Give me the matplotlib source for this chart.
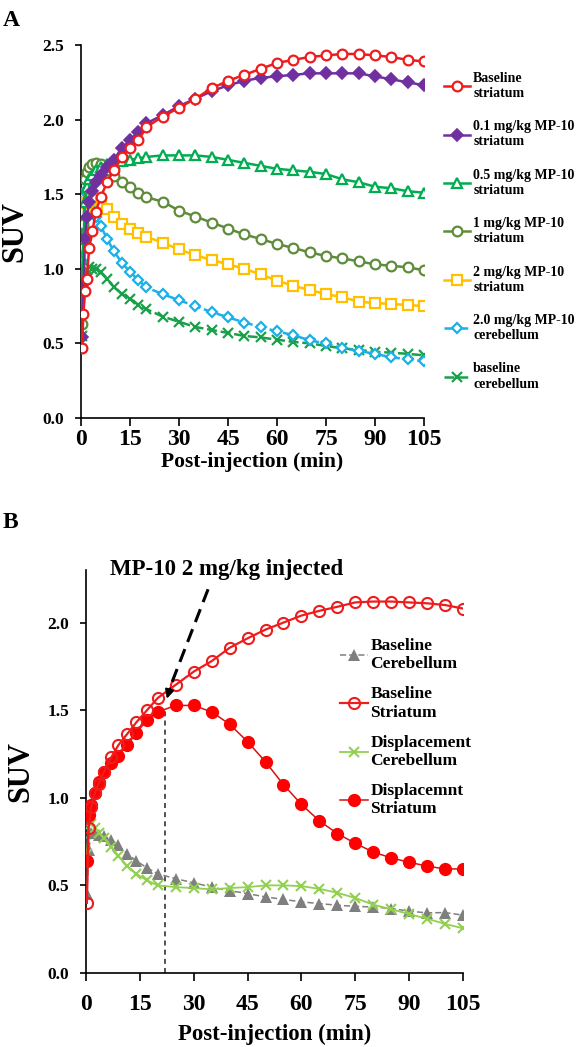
import matplotlib
matplotlib.use("Agg")
import matplotlib.pyplot as plt

plt.rcParams['font.family'] = ['Liberation Serif', 'DejaVu Serif']
plt.rcParams['font.weight'] = 'bold'

# ---------------- Data: panel A ----------------
t_a = [0.25, 0.75, 1.25, 1.75, 2.5, 3.5, 4.5, 6, 8, 10, 12.5, 15, 17.5, 20,
       25, 30, 35, 40, 45, 50, 55, 60, 65, 70, 75, 80, 85, 90, 95, 100, 105]
baseline_str = [0.47, 0.70, 0.85, 0.93, 1.14, 1.25, 1.38, 1.48, 1.58, 1.66, 1.75, 1.81, 1.86, 1.95,
                2.02, 2.08, 2.14, 2.21, 2.26, 2.30, 2.34, 2.38, 2.40, 2.42, 2.43, 2.44, 2.44, 2.43, 2.42, 2.40, 2.39]
mp01_str = [0.54, 0.90, 1.20, 1.35, 1.45, 1.52, 1.58, 1.63, 1.68, 1.73, 1.81, 1.86, 1.92, 1.975,
            2.03, 2.09, 2.14, 2.19, 2.23, 2.26, 2.28, 2.29, 2.30, 2.31, 2.31, 2.31, 2.31, 2.29, 2.27, 2.25, 2.23]
mp05_str = [0.88, 1.20, 1.45, 1.55, 1.60, 1.63, 1.66, 1.68, 1.70, 1.71, 1.72, 1.73, 1.74, 1.75,
            1.76, 1.76, 1.76, 1.75, 1.73, 1.71, 1.69, 1.67, 1.66, 1.65, 1.635, 1.60, 1.58, 1.55, 1.54, 1.52, 1.51]
mp1_str = [0.63, 1.30, 1.60, 1.65, 1.68, 1.70, 1.71, 1.70, 1.66, 1.62, 1.58, 1.55, 1.51, 1.48,
           1.45, 1.39, 1.35, 1.31, 1.27, 1.23, 1.20, 1.166, 1.14, 1.11, 1.086, 1.07, 1.05, 1.03, 1.02, 1.01, 0.99]
mp2_str = [0.88, 1.15, 1.38, 1.44, 1.46, 1.47, 1.46, 1.44, 1.40, 1.35, 1.30, 1.27, 1.24, 1.215,
           1.175, 1.13, 1.09, 1.06, 1.03, 1.00, 0.963, 0.92, 0.887, 0.858, 0.83, 0.81, 0.78, 0.77, 0.765, 0.757, 0.75]
mp2_cb = [1.05, 1.50, 1.52, 1.50, 1.45, 1.40, 1.35, 1.29, 1.20, 1.12, 1.04, 0.98, 0.925, 0.876,
          0.83, 0.79, 0.75, 0.71, 0.675, 0.64, 0.61, 0.58, 0.556, 0.52, 0.50, 0.467, 0.45, 0.43, 0.407, 0.393, 0.38]
baseline_cb = [0.55, 0.85, 0.95, 0.99, 1.01, 1.00, 1.00, 0.98, 0.93, 0.88, 0.83, 0.80, 0.76, 0.73,
               0.68, 0.645, 0.61, 0.59, 0.57, 0.55, 0.54, 0.525, 0.51, 0.50, 0.483, 0.467, 0.456, 0.444, 0.438, 0.43, 0.42]

# ---------------- Data: panel B ----------------
t_b = [0.25, 0.75, 1.5, 2.5, 3.5, 5, 7, 9, 11.5, 14, 17, 20,
       25, 30, 35, 40, 45, 50, 55, 60, 65, 70, 75, 80, 85, 90, 95, 100, 105]
b_base_cb = [0.45, 0.70, 0.80, 0.80, 0.79, 0.78, 0.76, 0.73, 0.68, 0.64, 0.60, 0.566,
             0.538, 0.515, 0.49, 0.47, 0.453, 0.434, 0.42, 0.406, 0.396, 0.387, 0.38, 0.377, 0.368, 0.353, 0.343, 0.345, 0.33]
b_base_str = [0.40, 0.83, 0.95, 1.03, 1.08, 1.15, 1.23, 1.30, 1.365, 1.43, 1.50, 1.57,
              1.645, 1.72, 1.78, 1.856, 1.91, 1.96, 2.00, 2.04, 2.067, 2.09, 2.115, 2.12, 2.12, 2.115, 2.11, 2.10, 2.08]
b_disp_cb = [0.68, 0.86, 0.85, 0.83, 0.80, 0.77, 0.72, 0.67, 0.61, 0.566, 0.528, 0.50,
             0.49, 0.485, 0.477, 0.485, 0.49, 0.50, 0.50, 0.496, 0.48, 0.458, 0.428, 0.39, 0.364, 0.336, 0.31, 0.28, 0.255]
b_disp_str = [0.64, 0.90, 0.96, 1.03, 1.09, 1.15, 1.20, 1.24, 1.30, 1.37, 1.444, 1.49,
              1.527, 1.527, 1.49, 1.42, 1.32, 1.205, 1.075, 0.962, 0.868, 0.796, 0.74, 0.69, 0.657, 0.632, 0.61, 0.594, 0.594]
inject_time = 22

xticks = [0, 15, 30, 45, 60, 75, 90, 105]

fig = plt.figure(figsize=(5.76, 10.47), dpi=100)
W, H = 576, 1047


def style_axes(ax, xpad):
    for s in ['top', 'right']:
        ax.spines[s].set_visible(False)
    for s in ['left', 'bottom']:
        ax.spines[s].set_linewidth(1.2)
    ax.set_xlim(0, 105)
    ax.set_xticks(xticks)
    ax.tick_params(axis='x', labelsize=17, length=6, width=1.2, pad=xpad, direction='out')
    ax.tick_params(axis='y', labelsize=12.5, length=4, width=1.2, pad=8, direction='out')
    for lab in ax.get_xticklabels() + ax.get_yticklabels():
        lab.set_fontweight('bold')


# ---------------- Panel A ----------------
axA = fig.add_axes([81 / W, 1 - 418 / H, 343 / W, 373 / H])
lw = 1.8
axA.plot(t_a, baseline_cb, color='#1aa04a', ls=(0, (4, 1.5)), lw=lw, marker='x', ms=7, mew=1.6,
         label='baseline\ncerebellum', zorder=2)
axA.plot(t_a, mp2_cb, color='#1cb0e8', ls=(0, (4, 1.5)), lw=lw, marker='D', ms=5.5, mfc='white', mew=1.6,
         label='2.0 mg/kg MP-10\ncerebellum', zorder=3)
axA.plot(t_a, mp2_str, color='#ffc000', lw=lw, marker='s', ms=7, mfc='white', mew=1.6,
         label='2 mg/kg MP-10\nstriatum', zorder=4)
axA.plot(t_a, mp1_str, color='#5e8c3a', lw=lw, marker='o', ms=7, mfc='white', mew=1.6,
         label='1 mg/kg MP-10\nstriatum', zorder=5)
axA.plot(t_a, mp05_str, color='#00ad50', lw=lw, marker='^', ms=7, mfc='white', mew=1.6,
         label='0.5 mg/kg MP-10\nstriatum', zorder=6)
axA.plot(t_a, mp01_str, color='#7030a0', lw=lw, marker='D', ms=6, mew=1.2, mec='#7030a0',
         label='0.1 mg/kg MP-10\nstriatum', zorder=7)
axA.plot(t_a, baseline_str, color='#ee1c1c', lw=lw, marker='o', ms=7, mfc='white', mew=1.6,
         label='Baseline\nstriatum', zorder=8)
axA.set_ylim(0, 2.5)
axA.set_yticks([0, 0.5, 1.0, 1.5, 2.0, 2.5])
axA.set_yticklabels(['0.0', '0.5', '1.0', '1.5', '2.0', '2.5'])
style_axes(axA, 2)
axA.set_ylabel('SUV', fontsize=22, fontweight='bold')
axA.yaxis.set_label_coords(-0.15, 0.5)
axA.set_xlabel('Post-injection (min)', fontsize=15.5, fontweight='bold')
axA.xaxis.set_label_coords(0.5, -0.092)

handles, labels = axA.get_legend_handles_labels()
fig.legend(handles[::-1], labels[::-1], loc='upper left',
           bbox_to_anchor=(444 / W, 1 - 72 / H), frameon=False,
           prop={'size': 10, 'weight': 'bold'}, handlelength=1.9, handletextpad=0.2,
           labelspacing=1.47, borderpad=0, borderaxespad=0)

fig.text(3 / W, 1 - 10 / H, 'A', fontsize=17, fontweight='bold', va='top', ha='left')

# ---------------- Panel B ----------------
axB = fig.add_axes([86 / W, 1 - 973 / H, 377 / W, 403 / H])
axB.plot(t_b, b_base_cb, color='#7f7f7f', ls=(0, (4, 2)), lw=1.1, marker='^', ms=8, mew=0,
         label='Baseline\nCerebellum', zorder=3)
axB.plot(t_b, b_disp_cb, color='#92d050', lw=1.3, marker='x', ms=7.5, mew=1.5,
         label='Displacement\nCerebellum', zorder=4)
axB.plot(t_b, b_disp_str, color='#d81010', lw=1.1, marker='o', ms=8.5, mfc='#ff0000', mec='#ff0000',
         label='Displacemnt\nStriatum', zorder=5)
axB.plot(t_b, b_base_str, color='#ee1c1c', lw=1.6, marker='o', ms=8, mfc='none', mew=1.5,
         label='Baseline\nStriatum', zorder=6)
axB.set_ylim(0, 2.3)
axB.set_yticks([0, 0.5, 1.0, 1.5, 2.0])
axB.set_yticklabels(['0.0', '0.5', '1.0', '1.5', '2.0'])
style_axes(axB, 9)
axB.set_ylabel('SUV', fontsize=22, fontweight='bold')
axB.yaxis.set_label_coords(-0.135, 0.5)
axB.set_xlabel('Post-injection (min)', fontsize=16.5, fontweight='bold')
axB.xaxis.set_label_coords(0.5, -0.125)

# injection marker
axB.plot([inject_time, inject_time], [0, 1.5], color='#333333', lw=1.2, ls=(0, (3, 2.5)), zorder=2)
axB.plot([34, 23.2], [2.19, 1.62], color='black', lw=2.2, ls=(0, (4.5, 2.5)), zorder=7)
axB.annotate('', xy=(22.3, 1.55), xytext=(23.6, 1.64),
             arrowprops=dict(arrowstyle='-|>', color='black', lw=1.5, mutation_scale=13), zorder=7)
axB.text(6.7, 2.30, 'MP-10 2 mg/kg injected', fontsize=16.5, fontweight='bold',
         ha='left', va='center', clip_on=False)

hB, lB = axB.get_legend_handles_labels()
order = [0, 3, 1, 2]
fig.legend([hB[i] for i in order], [lB[i] for i in order], loc='upper left',
           bbox_to_anchor=(340 / W, 1 - 638 / H), frameon=False,
           prop={'size': 12.5, 'weight': 'bold'}, handlelength=1.6, handletextpad=0.15,
           labelspacing=0.8, borderpad=0, borderaxespad=0)

fig.text(3 / W, 1 - 512 / H, 'B', fontsize=17, fontweight='bold', va='top', ha='left')

fig.savefig('out.png', dpi=100)
